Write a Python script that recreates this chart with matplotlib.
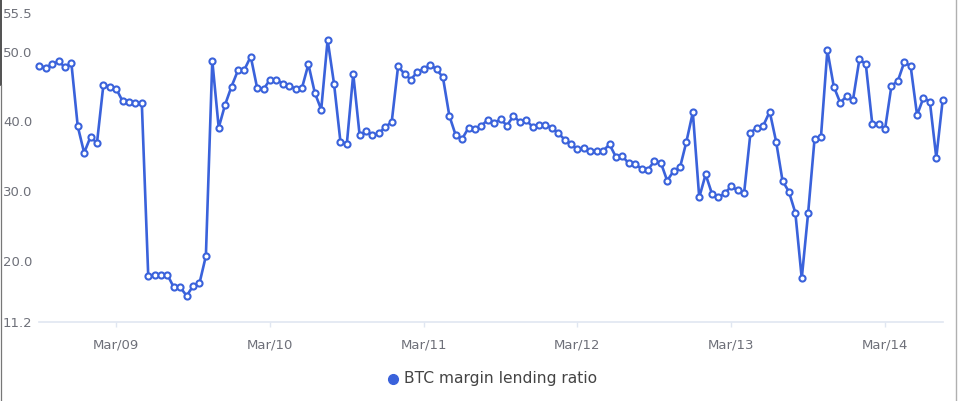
import matplotlib
matplotlib.use("Agg")
import matplotlib.pyplot as plt
from matplotlib.lines import Line2D
import pandas as pd

# semi-monthly observations, Sep 2008 .. Jul 2014
dates = pd.date_range("2008-09-01", periods=142, freq="SMS")
values = [
    48.0, 47.7, 48.2, 48.6, 47.8, 48.4, 39.3, 35.5, 37.8, 36.9, 45.2, 45.0,
    44.7, 42.9, 42.8, 42.7, 42.6, 17.9, 18.0, 18.0, 18.0, 16.2, 16.2, 15.0,
    16.4, 16.8, 20.7, 48.7, 39.1, 42.4, 45.0, 47.3, 47.4, 49.3, 44.8, 44.6,
    46.0, 46.0, 45.4, 45.1, 44.7, 44.8, 48.2, 44.1, 41.7, 51.7, 45.4, 37.1,
    36.8, 46.8, 38.0, 38.6, 38.0, 38.3, 39.2, 39.9, 47.9, 46.8, 46.0, 47.1,
    47.5, 48.1, 47.5, 46.3, 40.8, 38.0, 37.5, 39.1, 38.9, 39.4, 40.2,
    39.8, 40.3, 39.4, 40.8, 39.9, 40.2, 39.2, 39.5, 39.5, 39.1, 38.3, 37.4,
    36.7, 36.0, 36.2, 35.8, 35.8, 35.8, 36.7, 34.9, 35.0, 34.0, 33.9, 33.2,
    33.1, 34.3, 34.1, 31.5, 32.9, 33.4, 37.1, 41.3, 29.1, 32.4, 29.6, 29.1,
    29.7, 30.7, 30.1, 29.7, 38.4, 39.1, 39.4, 41.4, 37.1, 31.5, 29.9,
    26.9, 17.5, 26.9, 37.5, 37.8, 50.2, 45.0, 42.7, 43.6, 43.1, 48.9, 48.2,
    39.7, 39.6, 38.9, 45.1, 45.8, 48.5, 47.9, 40.9, 43.4, 42.8, 34.8, 43.1,
]
y_ticks = [11.2, 20.0, 30.0, 40.0, 50.0, 55.5]
y_min, y_max = 11.2, 55.5
series_name = "BTC margin lending ratio"

LINE = "#3a62db"
AXIS = "#e0e6f1"
LABEL = "#6e7079"

W, H = 959, 401
fig = plt.figure(figsize=(W / 100, H / 100), dpi=100)
fig.patch.set_facecolor("white")
ax = fig.add_axes([39.3 / W, 1 - 322.3 / H, (942.7 - 39.3) / W, (322.3 - 13.3) / H])

x = list(range(len(values)))
ax.plot(x, values, color=LINE, lw=1.9, marker="o", markersize=4.4,
        markerfacecolor="white", markeredgecolor=LINE, markeredgewidth=1.5,
        zorder=3, clip_on=False)

ax.set_xlim(0, len(values) - 1)
ax.set_ylim(y_min, y_max)

for s in ["top", "right", "left"]:
    ax.spines[s].set_visible(False)
ax.spines["bottom"].set_color(AXIS)
ax.spines["bottom"].set_linewidth(1.2)

ax.set_yticks(y_ticks)
ax.set_yticklabels([f"{t:.1f}" for t in y_ticks])
ax.tick_params(axis="y", length=0, pad=5, labelsize=9.5, labelcolor=LABEL)

tick_idx = [i for i, d in enumerate(dates) if d.month == 3 and d.day == 1]
ax.set_xticks(tick_idx)
ax.set_xticklabels([dates[i].strftime("%b/%y") for i in tick_idx])
ax.tick_params(axis="x", length=3.5, width=1, color=AXIS, pad=8,
               labelsize=9.5, labelcolor=LABEL)

# legend
fig.add_artist(Line2D([393 / W], [1 - 379 / H], marker="o", markersize=7,
                      color=LINE, linestyle="none", transform=fig.transFigure))
fig.text(404 / W, 1 - 379 / H, series_name, ha="left", va="center",
         fontsize=11.2, color="#444444")

# screenshot frame edges
fig.add_artist(Line2D([0.6 / W, 0.6 / W], [1 - 85 / H, 1], color="#333333", lw=1.2,
                      transform=fig.transFigure))
fig.add_artist(Line2D([0.6 / W, 0.6 / W], [0, 1 - 85 / H], color="#777777", lw=0.9,
                      transform=fig.transFigure))
fig.add_artist(Line2D([955.5 / W, 955.5 / W], [0, 1], color="#b0b0b0", lw=1.0,
                      transform=fig.transFigure))

fig.savefig("out.png", dpi=100)
